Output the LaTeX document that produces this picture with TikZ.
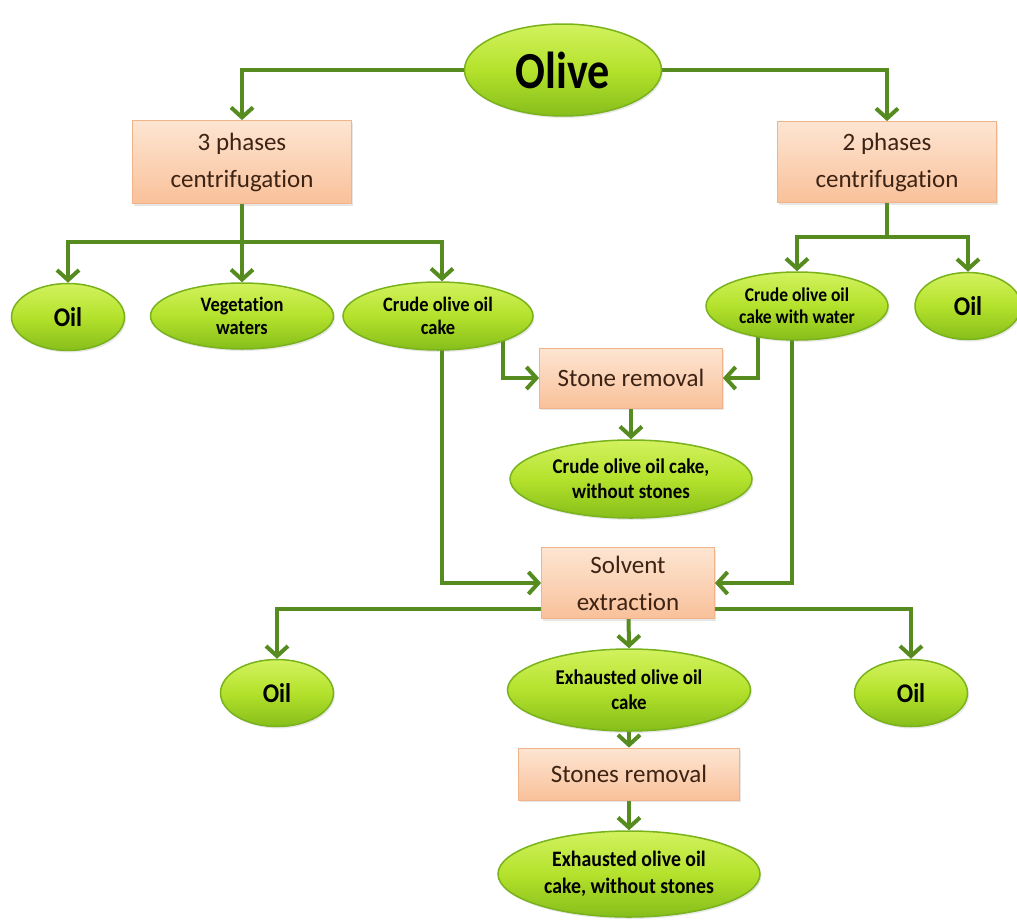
\documentclass[tikz,border=0pt]{standalone}
\usepackage{fontspec}
\setmainfont{Carlito}[Ligatures=NoCommon]
\newfontfamily\oliveFont{Carlito}[FakeStretch=0.85,Ligatures=NoCommon]
\newfontfamily\ellFont{Carlito}[FakeStretch=0.9,Ligatures=NoCommon]
\usetikzlibrary{arrows.meta,shapes.geometric,backgrounds,shadows}
\definecolor{lnk}{HTML}{558B1F}
\definecolor{elTop}{HTML}{D2F25E}
\definecolor{elMid}{HTML}{B4E22C}
\definecolor{elBot}{HTML}{86BE1A}
\definecolor{elRim}{HTML}{79B21C}
\definecolor{bxTop}{HTML}{FDE5D2}
\definecolor{bxBot}{HTML}{F9C19A}
\definecolor{bxRim}{HTML}{F1B48A}
\definecolor{bxTxt}{HTML}{3D2314}
\tikzset{
  ell/.style={ellipse, inner sep=0pt, align=center, top color=elTop, bottom color=elBot, middle color=elMid,
    draw=elRim, line width=1.5pt, text=black,
    drop shadow={opacity=0.18, shadow xshift=1.5pt, shadow yshift=-2pt}},
  bodytxt/.style={font=\fontsize{20.5}{23}\selectfont\ellFont\bfseries},
  oiltxt/.style={font=\fontsize{27}{27}\selectfont\ellFont\bfseries},
  procbox/.style={rectangle, inner sep=0pt, align=center, top color=bxTop, bottom color=bxBot,
    draw=bxRim, line width=0.8pt, text=bxTxt, font=\fontsize{25}{37}\selectfont,
    drop shadow={opacity=0.2, shadow xshift=1.5pt, shadow yshift=-2pt}},
  ln/.style={draw=lnk, line width=4pt},
  arr/.style={ln, -{Straight Barb[length=10pt,width=22pt]}}
}
\begin{document}
\begin{tikzpicture}[x=1pt,y=-1pt]
\useasboundingbox (0,0) rectangle (1017,921);
% nodes
\node[ell, minimum width=197pt, minimum height=92pt, font=\fontsize{52}{52}\selectfont\oliveFont\bfseries] (olive) at (563,70) {Olive};
\node[procbox, minimum width=219pt, minimum height=83pt] (p3) at (242,162) {3 phases\\centrifugation};
\node[procbox, minimum width=219pt, minimum height=81pt] (p2) at (887,162) {2 phases\\centrifugation};
\node[ell, oiltxt, minimum width=113pt, minimum height=67pt] (oil1) at (68,317) {Oil};
\node[ell, bodytxt, minimum width=183pt, minimum height=66pt] (veg) at (242,316) {Vegetation\\waters};
\node[ell, bodytxt, minimum width=190pt, minimum height=68pt] (coc) at (438,316) {Crude olive oil\\cake};
\node[ell, font=\fontsize{19.5}{22}\selectfont\ellFont\bfseries, minimum width=182pt, minimum height=68pt] (cww) at (797,306) {Crude olive oil\\cake with water};
\node[ell, oiltxt, minimum width=106pt, minimum height=67pt] (oil2) at (968,306) {Oil};
\node[procbox, minimum width=183pt, minimum height=60pt] (sr) at (631,378) {Stone removal};
\node[ell, font=\fontsize{21}{25}\selectfont\ellFont\bfseries, minimum width=242pt, minimum height=78pt] (cws) at (631,479) {Crude olive oil cake,\\without stones};
\node[procbox, minimum width=173pt, minimum height=71pt] (se) at (628,583) {Solvent\\extraction};
\node[ell, oiltxt, minimum width=113pt, minimum height=67pt] (oil3) at (277,693) {Oil};
\node[ell, font=\fontsize{21}{25}\selectfont\ellFont\bfseries, minimum width=243pt, minimum height=82pt] (exh) at (629,690) {Exhausted olive oil\\cake};
\node[ell, oiltxt, minimum width=113pt, minimum height=67pt] (oil4) at (911,693) {Oil};
\node[procbox, minimum width=221pt, minimum height=52pt] (sr2) at (629,774) {Stones removal};
\node[ell, font=\fontsize{22}{27}\selectfont\ellFont\bfseries, minimum width=262pt, minimum height=86pt] (fin) at (629,874) {Exhausted olive oil\\cake, without stones};
\coordinate (j3) at (242,242);
\coordinate (j2) at (887,237);
% connectors
\begin{scope}[on background layer]
\draw[arr] (olive.center) -| (p3.north);
\draw[arr] (olive.center) -| (p2.north);
\draw[ln] (p3.center) -- (j3);
\draw[arr] (j3) -| (oil1.north);
\draw[arr] (j3) -- (veg.north);
\draw[arr] (j3) -| ([xshift=4pt]coc.north);
\draw[ln] (p2.center) -- (j2);
\draw[arr] (j2) -| (cww.north);
\draw[arr] (j2) -| (oil2.north);
\draw[arr] ([xshift=65pt]coc.center) |- (sr.west);
\draw[arr] ([xshift=4pt]coc.center) |- (se.west);
\draw[arr] ([xshift=-39pt]cww.center) |- (sr.east);
\draw[arr] ([xshift=-5pt]cww.center) |- (se.east);
\draw[arr] (sr.center) -- (cws.north);
\draw[arr] ([yshift=10pt]se.south west) -| (oil3.north);
\draw[arr] ([yshift=10pt]se.south east) -| (oil4.north);
\draw[arr] (se.center) -- (exh.north);
\draw[arr] (exh.center) -- (sr2.north);
\draw[arr] (sr2.center) -- (fin.north);
\end{scope}
\end{tikzpicture}
\end{document}
